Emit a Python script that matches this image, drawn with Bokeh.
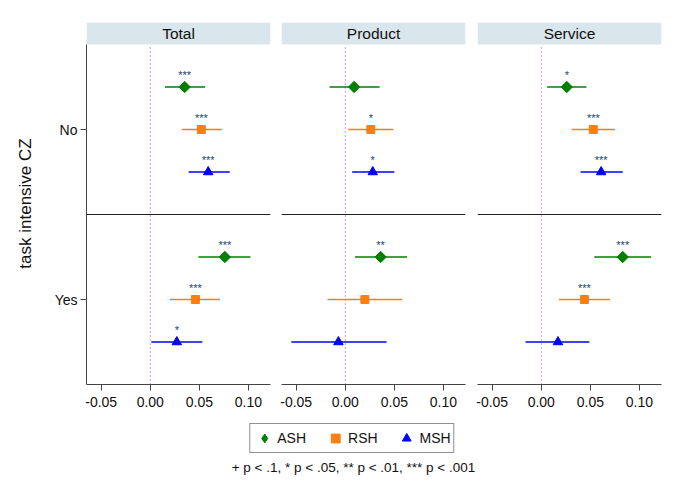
import math
from bokeh.plotting import figure
from bokeh.models import (ColumnDataSource, Range1d, FixedTicker, Span, Legend,
                          LegendItem, Label, NumeralTickFormatter)
from bokeh.layouts import row, column
from bokeh.embed import file_html
from bokeh.resources import INLINE
from bokeh.core.properties import value

FONT = "Liberation Sans"

panels = ["Total", "Product", "Service"]
groups = ["No", "Yes"]
series = ["ASH", "RSH", "MSH"]
x_ticks = [-0.05, 0.0, 0.05, 0.10]

# order: No-ASH, No-RSH, No-MSH, Yes-ASH, Yes-RSH, Yes-MSH
total_est = [0.035, 0.052, 0.059, 0.076, 0.046, 0.027]
total_lo = [0.015, 0.032, 0.039, 0.049, 0.020, 0.001]
total_hi = [0.056, 0.073, 0.081, 0.102, 0.071, 0.053]
total_stars = ["***", "***", "***", "***", "***", "*"]

product_est = [0.009, 0.026, 0.028, 0.036, 0.020, -0.007]
product_lo = [-0.016, 0.003, 0.007, 0.010, -0.018, -0.055]
product_hi = [0.035, 0.049, 0.050, 0.063, 0.058, 0.042]
product_stars = ["", "*", "*", "**", "", ""]

service_est = [0.026, 0.053, 0.061, 0.083, 0.044, 0.017]
service_lo = [0.006, 0.031, 0.040, 0.054, 0.018, -0.016]
service_hi = [0.046, 0.075, 0.083, 0.112, 0.070, 0.049]
service_stars = ["*", "***", "***", "***", "***", ""]

panel_data = {
    "Total": (total_est, total_lo, total_hi, total_stars),
    "Product": (product_est, product_lo, product_hi, product_stars),
    "Service": (service_est, service_lo, service_hi, service_stars),
}

colors = {"ASH": "#008000", "RSH": "#ff7f0e", "MSH": "#0000ff"}
markers = {"ASH": "square", "RSH": "square", "MSH": "triangle"}
angles = {"ASH": math.pi / 4, "RSH": 0.0, "MSH": 0.0}
sizes = {"ASH": 8, "RSH": 8, "MSH": 9.5}
legend_markers = {"ASH": "diamond", "RSH": "square", "MSH": "triangle"}
legend_sizes = {"ASH": 14, "RSH": 9, "MSH": 10.5}

group_center = {"No": 3.0, "Yes": 1.0}
series_offset = {"ASH": 0.5, "RSH": 0.0, "MSH": -0.5}

X0, X1 = -0.065, 0.1225
Y_TOP_DATA = 4.0
Y_TOP = 4.0 + 22.0 / 85.0
HEADER = "#d9e6eb"
AXIS_COL = "#444444"

borders = {"Total": (86, 5), "Product": (6, 5), "Service": (7, 7)}

figs = []
for name in panels:
    est, lo, hi, st = panel_data[name]
    ys, es, los, his, sts, cols = [], [], [], [], [], []
    i = 0
    for g in groups:
        for s in series:
            ys.append(group_center[g] + series_offset[s])
            es.append(est[i]); los.append(lo[i]); his.append(hi[i]); sts.append(st[i])
            cols.append(colors[s])
            i += 1
    left_b, right_b = borders[name]
    p = figure(frame_width=184, frame_height=362,
               x_range=Range1d(X0, X1), y_range=Range1d(0, Y_TOP),
               output_backend="svg", toolbar_location=None,
               min_border_left=left_b, min_border_right=right_b,
               min_border_top=22, min_border_bottom=34,
               y_axis_location="left" if name == "Total" else None)
    p.outline_line_color = None
    p.xgrid.visible = False
    p.ygrid.visible = False
    p.background_fill_color = "white"
    p.border_fill_color = "white"

    # header strip
    p.quad(left=[X0], right=[X1], bottom=[Y_TOP_DATA], top=[Y_TOP],
           fill_color=HEADER, line_color=None)
    p.text(x=[(X0 + X1) / 2], y=[(Y_TOP_DATA + Y_TOP) / 2], text=[name],
           text_align="center", text_baseline="middle",
           text_font=value(FONT), text_font_size="15.5px", text_color="#111111")

    # zero reference line
    p.segment(x0=[0], y0=[0], x1=[0], y1=[Y_TOP_DATA], line_color="#c060c0",
              line_width=1.2, line_dash="1 3")
    # group separator
    p.add_layout(Span(location=2.0, dimension="width", line_color="#222222",
                      line_width=1))

    src = ColumnDataSource(dict(y=ys, est=es, lo=los, hi=his, stars=sts, color=cols))
    p.segment(x0="lo", y0="y", x1="hi", y1="y", source=src, line_color="color",
              line_width=1.6)
    for k, s in enumerate(series):
        idx = [j for j in range(len(ys)) if j % 3 == k]
        ssrc = ColumnDataSource(dict(x=[es[j] for j in idx], y=[ys[j] for j in idx]))
        p.scatter(x="x", y="y", source=ssrc, marker=markers[s], angle=angles[s],
                  size=sizes[s], fill_color=colors[s], line_color=colors[s])
    p.text(x="est", y="y", text="stars", source=src, y_offset=-12,
           text_align="center", text_baseline="middle",
           text_font=value(FONT), text_font_size="11px", text_color="#1a476f")

    ax = p.xaxis[0]
    ax.ticker = FixedTicker(ticks=x_ticks)
    ax.formatter = NumeralTickFormatter(format="0.00")
    ax.minor_tick_line_color = None
    ax.major_tick_out = 6
    ax.major_tick_in = 0
    ax.major_tick_line_color = AXIS_COL
    ax.axis_line_color = AXIS_COL
    ax.major_label_standoff = 6
    ax.major_label_text_font = FONT
    ax.major_label_text_font_size = "14px"
    ax.major_label_text_color = "#111111"

    if name == "Total":
        yax = p.yaxis[0]
        yax.ticker = FixedTicker(ticks=[1, 3])
        yax.major_label_overrides = {1: "Yes", 3: "No"}
        yax.bounds = (0, Y_TOP_DATA)
        yax.minor_tick_line_color = None
        yax.major_tick_out = 6
        yax.major_tick_in = 0
        yax.major_tick_line_color = AXIS_COL
        yax.axis_line_color = AXIS_COL
        yax.major_label_standoff = 3
        yax.major_label_text_font = FONT
        yax.major_label_text_font_size = "14px"
        yax.major_label_text_color = "#111111"
        yax.axis_label = "task intensive CZ"
        yax.axis_label_text_font = FONT
        yax.axis_label_text_font_size = "17px"
        yax.axis_label_text_font_style = "normal"
        yax.axis_label_text_color = "#111111"
        yax.axis_label_standoff = 17
    figs.append(p)

# legend + note figure
lf = figure(width=676, height=61, x_range=Range1d(0, 1), y_range=Range1d(0, 1),
            output_backend="svg", toolbar_location=None,
            min_border_left=28, min_border_right=0, min_border_top=0,
            min_border_bottom=0, x_axis_location=None, y_axis_location=None)
lf.outline_line_color = None
lf.xgrid.visible = False
lf.ygrid.visible = False
items = []
for s in series:
    r = lf.scatter(x=[10], y=[10], marker=legend_markers[s], size=legend_sizes[s],
                   fill_color=colors[s], line_color=colors[s])
    items.append(LegendItem(label=s, renderers=[r]))
legend = Legend(items=items, orientation="horizontal", location="top_center",
                margin=5, padding=3, spacing=18, glyph_width=22, glyph_height=22,
                label_standoff=2, label_height=20,
                label_text_font=FONT, label_text_font_size="14px",
                label_text_color="#111111",
                border_line_color="#222222", border_line_width=1,
                background_fill_color="white", background_fill_alpha=1.0)
lf.add_layout(legend)
lf.add_layout(Label(x=325, y=12, x_units="screen", y_units="screen",
                    text="+ p < .1, * p < .05, ** p < .01, *** p < .001",
                    text_align="center", text_baseline="middle",
                    text_font=FONT, text_font_size="13.5px", text_color="#111111"))

layout = column(row(*figs), lf)
open("out.html", "w").write(file_html(layout, INLINE))
